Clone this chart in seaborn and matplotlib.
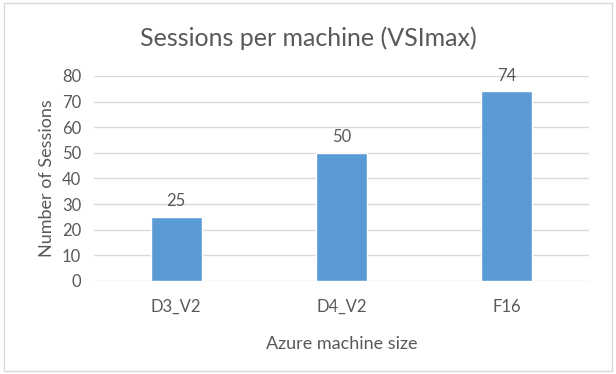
import matplotlib
matplotlib.use('Agg')
import matplotlib.pyplot as plt
import seaborn as sns
import pandas as pd
from matplotlib.patches import Rectangle

machines = ['D3_V2', 'D4_V2', 'F16']
sessions = [25, 50, 74]
yticks = [0, 10, 20, 30, 40, 50, 60, 70, 80]

sns.set_style('white')
plt.rcParams['font.family'] = ['Lato', 'DejaVu Sans']
grey = '#595959'

df = pd.DataFrame({'machine': machines, 'sessions': sessions})

fig = plt.figure(figsize=(6.16, 3.74), dpi=100)
ax = fig.add_axes([0.152, 0.249, 0.804, 0.548])
sns.barplot(data=df, x='machine', y='sessions', color='#5B9BD5', width=0.31,
            saturation=1, ax=ax, zorder=3)

ax.set_ylim(0, 80)
ax.set_yticks(yticks)
ax.set_xlim(-0.5, 2.5)
ax.grid(axis='y', color='#D9D9D9', lw=1, zorder=0)
for s in ax.spines.values():
    s.set_visible(False)
ax.tick_params(length=0, labelsize=12, labelcolor=grey)
ax.tick_params(axis='x', pad=13)
ax.tick_params(axis='y', pad=9)

for i, v in enumerate(sessions):
    ax.text(i, v + 3, str(v), ha='center', va='bottom', fontsize=12, color=grey)

ax.set_xlabel('Azure machine size', fontsize=13, color=grey, labelpad=15)
ax.set_ylabel('Number of Sessions', fontsize=13, color=grey, labelpad=5)
fig.text(0.5, 0.898, 'Sessions per machine (VSImax)', ha='center', va='center',
         fontsize=18, color=grey)

fig.patches.append(Rectangle((0.006, 0.008), 0.988, 0.984, transform=fig.transFigure,
                             fill=False, edgecolor='#D9D9D9', lw=1))

plt.savefig('out.png', dpi=100)
